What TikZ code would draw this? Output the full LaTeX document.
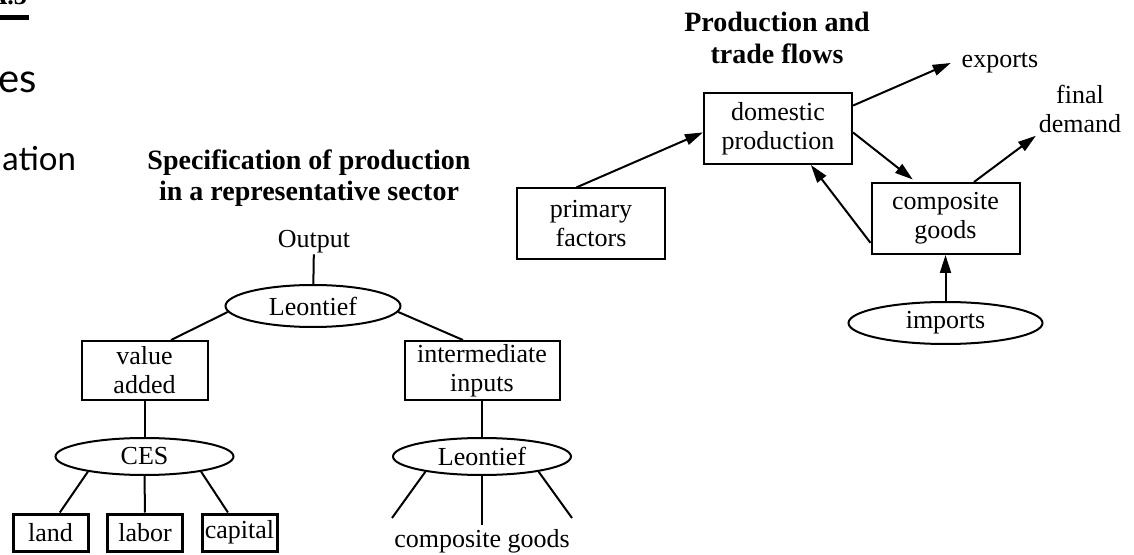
\documentclass[tikz,border=0pt]{standalone}
\usepackage{fontspec}
\setmainfont{Liberation Serif}
\newfontfamily\slidefont{Lato}
\usetikzlibrary{shapes.geometric,arrows.meta}
\tikzset{every node/.style={font=\fontsize{13}{14.5}\selectfont, inner sep=0pt, align=center},
  box/.style={draw, rectangle, minimum height=29.5pt},
  flowbox/.style={draw, rectangle, minimum width=74pt, minimum height=35.5pt},
  oval/.style={draw, ellipse, minimum width=89pt, minimum height=18.5pt},
  leaf/.style={draw, rectangle, line width=1.5pt, minimum width=37.5pt, minimum height=18.5pt},
  heading/.style={font=\fontsize{14}{15.75}\selectfont\bfseries},
  flow/.style={-{Triangle[length=9pt,width=5.5pt]}}}

\begin{document}
\begin{tikzpicture}[x=0.5pt,y=-0.5pt,line width=1pt]
  \useasboundingbox (0,0) rectangle (1134,555);
  \clip (0,0) rectangle (1134,555);
  \node[anchor=base east, font=\fontsize{13}{15}\selectfont\bfseries] (fig) at (28,5) {A.3};
  \draw[line width=2.5pt] ([yshift=-6.25pt]fig.base west) -- ([yshift=-6.25pt,xshift=0.5pt]fig.base east);
  \node[anchor=base east, font=\slidefont\fontsize{20}{24}\selectfont] (es) at (38,93) {es};
  \node[anchor=base east, font=\slidefont\fontsize{16.5}{20}\selectfont] (ation) at (77,171) {ation};

  \node[heading] (spec) at (309,178) {Specification of production\\in a representative sector};
  \node (out) at (314,242) {Output};
  \node[oval, minimum width=87.5pt, minimum height=21pt] (lt) at (313,306) {Leontief};
  \node[box, minimum width=63pt] (va) at (144.5,370.5) {value\\added};
  \node[box, minimum width=77.5pt] (ii) at (482,370.5) {intermediate\\inputs};
  \node[oval] (ces) at (144.5,456.5) {CES};
  \node[oval] (lb) at (482,456.5) {Leontief};
  \node[leaf] (land) at (50.5,532.5) {land};
  \node[leaf] (labor) at (145,532.5) {labor};
  \node[leaf] (capital) at (239.5,532.5) {capital};
  \node (cgoods) at (482,541) {composite goods};
  \coordinate (g1) at (392,518);
  \coordinate (g2) at (482,525);
  \coordinate (g3) at (572,518);
  \draw (out) -- (lt);
  \draw (lt.184) -- (va.49);
  \draw (lt.-4) -- (ii.122);
  \draw (va) -- (ces);
  \draw (ii) -- (lb);
  \draw (ces.195) -- (land.65);
  \draw (ces) -- (labor);
  \draw (ces.-15) -- (capital.120);
  \draw (lb.195) -- (g1);
  \draw (lb) -- (g2);
  \draw (lb.-15) -- (g3);

  \node[heading] (ptf) at (777,38) {Production and\\trade flows};
  \node[flowbox] (dp) at (778,128.5) {domestic\\production};
  \node[flowbox] (pf) at (591,224) {primary\\factors};
  \node[flowbox] (cg) at (945.5,218.5) {composite\\goods};
  \node[oval, minimum width=97pt, minimum height=21pt] (im) at (945.5,323) {imports};
  \node[inner sep=5pt] (ex) at (1000,63) {exports};
  \node[inner sep=1pt] (fd) at (1080,109) {final\\demand};
  \draw[flow] (pf.112) -- (dp.183);
  \draw[flow] (dp.17) -- (ex.west);
  \draw[flow, shorten >=2pt] (dp.-3) -- (cg.129);
  \draw[flow] (cg.198) -- (dp.-48);
  \draw[flow] (cg.52) -- (fd.south west);
  \draw[flow] (im) -- (cg);
\end{tikzpicture}
\end{document}
